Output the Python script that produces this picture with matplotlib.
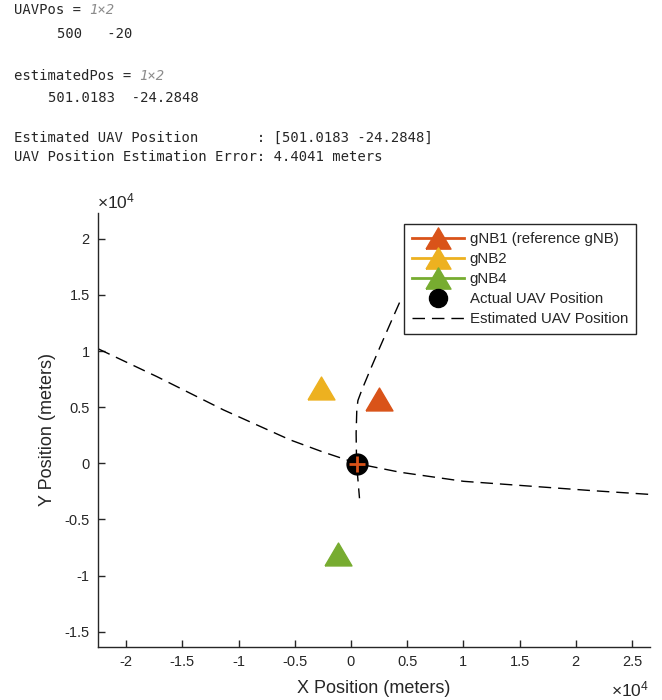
import matplotlib
matplotlib.use("Agg")
import matplotlib.pyplot as plt
from matplotlib.lines import Line2D

plt.rcParams['font.family'] = ['Liberation Sans', 'DejaVu Sans']
plt.rcParams['mathtext.fontset'] = 'custom'
plt.rcParams['mathtext.rm'] = 'Liberation Sans'

# ---- data (meters) ----
uav_pos = [500, -20]
est_pos = [501.0183, -24.2848]
gnb1 = [2480, 5740]
gnb2 = [-2680, 6720]
gnb4 = [-1160, -8120]

hyp1_x = [-22470, -17270, -11340, -5410, -2600, -360, 500, 1860, 4380, 10010, 15650, 21430, 26470]
hyp1_y = [10196, 7730, 4760, 2090, 1050, 300, -20, -290, -795, -1600, -2010, -2430, -2760]

hyp2_x = [4320, 3640, 2600, 1710, 970, 620, 520, 460, 500, 760]
hyp2_y = [14320, 12780, 10400, 8320, 6540, 5600, 4760, 2680, -20, -3110]

xticks = [-20000, -15000, -10000, -5000, 0, 5000, 10000, 15000, 20000, 25000]
xticklabels = ['-2', '-1.5', '-1', '-0.5', '0', '0.5', '1', '1.5', '2', '2.5']
yticks = [-15000, -10000, -5000, 0, 5000, 10000, 15000, 20000]
yticklabels = ['-1.5', '-1', '-0.5', '0', '0.5', '1', '1.5', '2']

legend_labels = ['gNB1 (reference gNB)', 'gNB2', 'gNB4', 'Actual UAV Position', 'Estimated UAV Position']

c1 = '#D95319'
c2 = '#EDB120'
c4 = '#77AC30'
axc = '#262626'
txtc = '#262626'

tri = [(-1, -0.85), (1, -0.85), (0, 0.85), (-1, -0.85)]

fig = plt.figure(figsize=(6.62, 7.0), dpi=100)

# ---- console text ----
mono = dict(family='DejaVu Sans Mono', fontsize=10, color=txtc, va='center', ha='left')
W, H = 662.0, 700.0
def ftext(px, py, s, **kw):
    d = dict(mono); d.update(kw)
    fig.text(px / W, 1 - py / H, s, **d)

ftext(14, 10, 'UAVPos = ')
ftext(14 + 9 * 8.36, 10, '1×2', style='italic', color='#8c8c8c')
ftext(57, 34, '500   -20')
ftext(14, 76, 'estimatedPos = ')
ftext(14 + 15 * 8.36, 76, '1×2', style='italic', color='#8c8c8c')
ftext(48, 98, '501.0183  -24.2848')
ftext(14, 138, 'Estimated UAV Position       : [501.0183 -24.2848]')
ftext(14, 157, 'UAV Position Estimation Error: 4.4041 meters')

# ---- axes ----
left, right, top, bottom = 98, 650, 213, 647
ax = fig.add_axes([left / W, 1 - bottom / H, (right - left) / W, (bottom - top) / H])

ax.plot(hyp1_x, hyp1_y, color='black', lw=1.0, ls=(0, (9, 5)))
ax.plot(hyp2_x, hyp2_y, color='black', lw=1.0, ls=(0, (9, 5)))
ax.plot(gnb1[0], gnb1[1], marker=tri, ms=19.4, color=c1, ls='none')
ax.plot(gnb2[0], gnb2[1], marker=tri, ms=19.4, color=c2, ls='none')
ax.plot(gnb4[0], gnb4[1], marker=tri, ms=19.4, color=c4, ls='none')
ax.plot(uav_pos[0], uav_pos[1], marker='o', ms=15, color='black', ls='none')
ax.plot(est_pos[0], est_pos[1], marker='+', ms=12, mew=2.0, color=c1, ls='none')

ax.set_xlim(-22500, 26600)
ax.set_ylim(-16360, 22300)
ax.set_xticks(xticks)
ax.set_xticklabels(xticklabels)
ax.set_yticks(yticks)
ax.set_yticklabels(yticklabels)
ax.tick_params(direction='in', length=5, width=1, colors=axc, labelsize=10.5, pad=6)
for s in ['top', 'right']:
    ax.spines[s].set_visible(False)
for s in ['left', 'bottom']:
    ax.spines[s].set_color(axc)
    ax.spines[s].set_linewidth(1.0)

ax.set_xlabel('X Position (meters)', fontsize=13, color=axc, labelpad=8)
ax.set_ylabel('Y Position (meters)', fontsize=13, color=axc, labelpad=6)

fig.text(97 / W, 1 - 201 / H, r'$\times\mathregular{10^4}$', fontsize=12.5, color=axc, ha='left', va='center')
fig.text(611 / W, 1 - 689 / H, r'$\times\mathregular{10^4}$', fontsize=12.5, color=axc, ha='left', va='center')

handles = [
    Line2D([], [], color=c1, lw=2, marker=tri, ms=18),
    Line2D([], [], color=c2, lw=2, marker=tri, ms=18),
    Line2D([], [], color=c4, lw=2, marker=tri, ms=18),
    Line2D([], [], color='black', ls='none', marker='o', ms=13),
    Line2D([], [], color='black', lw=1.0, ls=(0, (9, 5))),
]
leg = ax.legend(handles, legend_labels, loc='upper right', bbox_to_anchor=(0.975, 0.975),
                borderaxespad=0, fontsize=10.8, frameon=True, fancybox=False,
                handlelength=3.5, handletextpad=0.35, labelspacing=0.4,
                borderpad=0.55, edgecolor=axc, framealpha=1)
leg.get_frame().set_linewidth(1.0)
for t in leg.get_texts():
    t.set_color(axc)

fig.savefig('out.png', dpi=100)
